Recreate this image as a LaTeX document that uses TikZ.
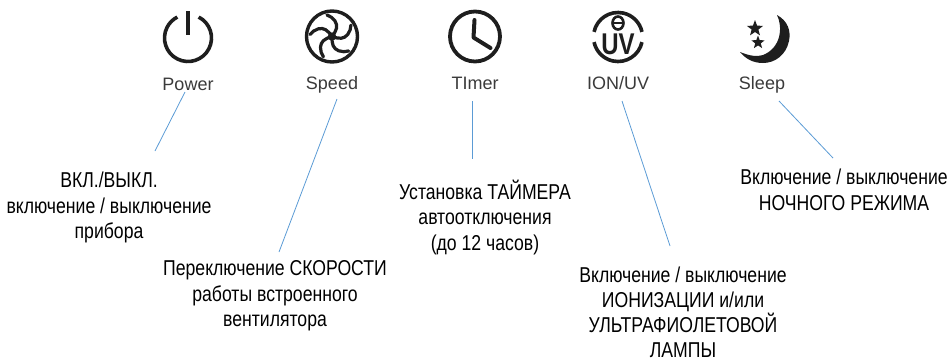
\documentclass[tikz,border=0pt]{standalone}
\usetikzlibrary{shapes.geometric}
\usepackage{fontspec}
\setmainfont[FakeStretch=0.82]{Liberation Sans}
\newfontfamily\labelfont{Liberation Sans}
\newfontfamily\uvfont[FakeStretch=0.8]{Liberation Sans Bold}
\definecolor{callout}{HTML}{5B9BD5}
\definecolor{icontext}{HTML}{3A3A3A}
\definecolor{iconink}{HTML}{1E1E1E}
\tikzset{
  desc/.style={align=center,font=\fontsize{21.5}{25.5}\selectfont,text=black,inner sep=0pt},
  desctight/.style={align=center,font=\fontsize{21.5}{25}\selectfont,text=black,inner sep=0pt},
  iconlabel/.style={font=\labelfont\fontsize{18}{20}\selectfont,text=icontext,inner sep=0pt,anchor=base},
  leader/.style={draw=callout,line width=0.8pt},
  ink/.style={draw=iconink,line width=3.6pt},
  blade/.style={draw=iconink,line width=3.2pt,line cap=round},
  starmark/.style={star,star points=5,star point ratio=2.4,fill=iconink,inner sep=0pt},
}
\begin{document}
\begin{tikzpicture}[x=1pt,y=-1pt]
\useasboundingbox (0,0) rectangle (950,359);
% power icon
\draw[ink] (188,38) ++(-63:23.5) arc[start angle=-63,end angle=243,radius=23.5];
\draw[ink,line width=4pt] (188,11) -- (188,35);
% fan icon
\draw[ink,line width=3.4pt] (332,36.5) circle[radius=25.5];
\fill[iconink] (332,36.5) circle[radius=4.2];
\foreach \a in {0,72,144,216,288}{
  \draw[blade,rotate around={\a:(332,36.5)}] (332,36.5) .. controls (337,30) and (338,26) .. (335,21) .. controls (333,18) and (330,16) .. (327,15);
}
% clock icon
\draw[ink,line width=3.8pt] (475,36.5) circle[radius=25];
\draw[ink,line width=4pt,line join=round,line cap=round] (474.5,20) -- (473.5,37.5) -- (490.5,48);
% ion/uv icon
\draw[ink] (618,37) ++(-168:24.5) arc[start angle=-168,end angle=-12,radius=24.5];
\draw[ink] (618,37) ++(12:24.5) arc[start angle=12,end angle=168,radius=24.5];
\draw[ink,line width=2.6pt] (618,23) circle[x radius=5.5,y radius=6.5];
\draw[ink,line width=2pt] (612.5,23) -- (623.5,23);
\node[font=\uvfont\fontsize{30}{30}\selectfont,text=iconink,inner sep=0pt] (uv) at (618,44) {UV};
% moon icon
\fill[iconink] (777,15) .. controls (788,21) and (791,31) .. (789,41)
  .. controls (786,55) and (775,63) .. (763,63)
  .. controls (752,63) and (745,58) .. (740,52)
  .. controls (750,56) and (757,57) .. (763,55)
  .. controls (771,52) and (777,45) .. (779,37)
  .. controls (781,29) and (780,21) .. (777,15) -- cycle;
\node[starmark,minimum size=17pt] (s1) at (755,28.5) {};
\node[starmark,minimum size=14pt] (s2) at (758,42.5) {};
% icon labels
\node[iconlabel] (lp) at (188,90) {Power};
\node[iconlabel] (ls) at (332,89.5) {Speed};
\node[iconlabel] (lt) at (475,89.5) {TImer};
\node[iconlabel] (li) at (618,89.5) {ION/UV};
\node[iconlabel] (lz) at (762,89.5) {Sleep};
% descriptions
\node[desc] (d1) at (109,207.5) {ВКЛ./ВЫКЛ.\\включение / выключение\\прибора};
\node[desc] (d2) at (275,296) {Переключение СКОРОСТИ\\работы встроенного\\вентилятора};
\node[desc] (d3) at (485,217.5) {Установка ТАЙМЕРА\\автоотключения\\(до 12 часов)};
\node[desctight] (d4) at (683,312.5) {Включение / выключение\\ИОНИЗАЦИИ и/или\\УЛЬТРАФИОЛЕТОВОЙ\\ЛАМПЫ};
\node[desc] (d5) at (844,190) {Включение / выключение\\НОЧНОГО РЕЖИМА};
% connector ends
\coordinate (a1) at (185,92);  \coordinate (b1) at (155,151);
\coordinate (a2) at (337,99);  \coordinate (b2) at (279,252);
\coordinate (a3) at (472,101); \coordinate (b3) at (472,159);
\coordinate (a4) at (622,101); \coordinate (b4) at (670,246);
\coordinate (a5) at (779,101); \coordinate (b5) at (833,158);
\draw[leader] (a1) -- (b1);
\draw[leader] (a2) -- (b2);
\draw[leader] (a3) -- (b3);
\draw[leader] (a4) -- (b4);
\draw[leader] (a5) -- (b5);
\end{tikzpicture}
\end{document}
